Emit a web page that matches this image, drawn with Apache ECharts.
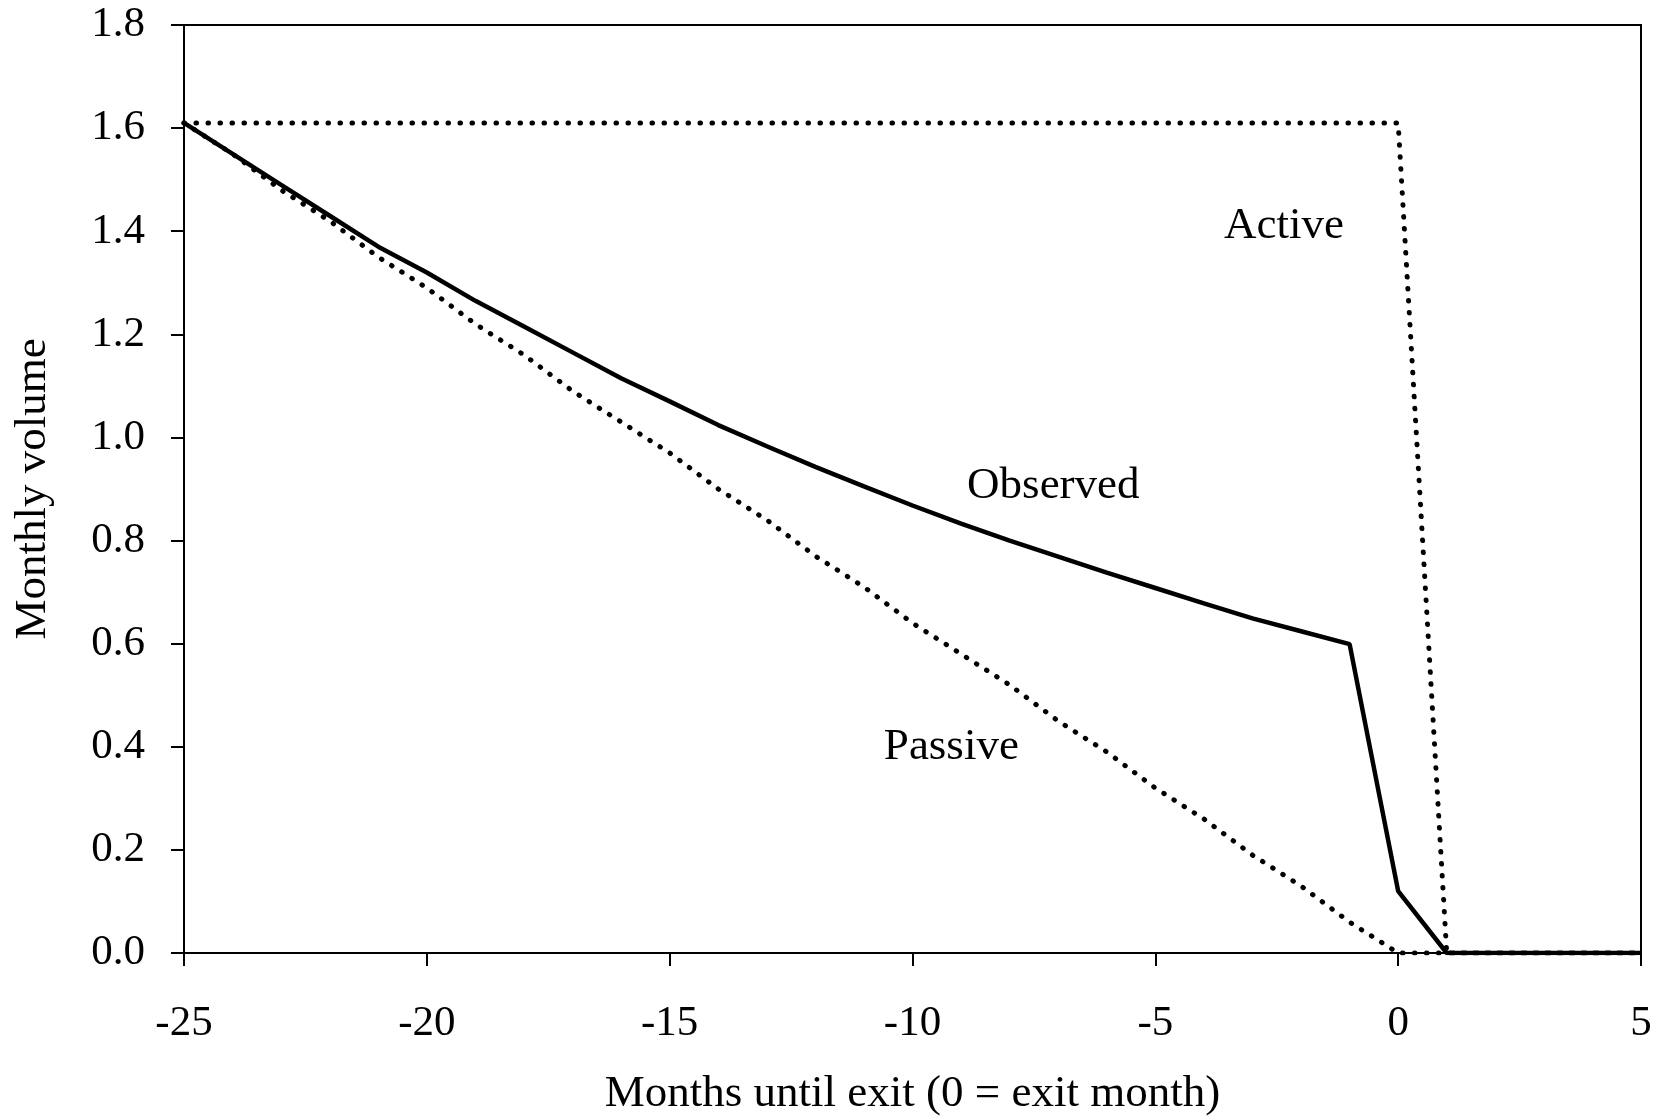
<!DOCTYPE html>
<html>
<head>
<meta charset="utf-8">
<script src="https://cdn.jsdelivr.net/npm/echarts@6/dist/echarts.min.js"></script>
<style>
  html, body { margin: 0; padding: 0; background: #fff; }
  #chart { width: 1664px; height: 1118px; }
</style>
</head>
<body>
<div id="chart"></div>
<script>
const months = [-25, -24, -23, -22, -21, -20, -19, -18, -17, -16, -15, -14, -13, -12, -11, -10,
                -9, -8, -7, -6, -5, -4, -3, -2, -1, 0, 1, 2, 3, 4, 5];
const observed = [1.61, 1.55, 1.49, 1.43, 1.37, 1.32, 1.265, 1.215, 1.165, 1.115, 1.07, 1.024,
                  0.983, 0.943, 0.905, 0.868, 0.833, 0.80, 0.769, 0.738, 0.708, 0.678, 0.649,
                  0.624, 0.599, 0.12, 0, 0, 0, 0, 0];
const passive = [1.61, 1.55, 1.48, 1.42, 1.35, 1.29, 1.22, 1.16, 1.09, 1.03, 0.97, 0.90, 0.84,
                 0.77, 0.71, 0.64, 0.58, 0.52, 0.45, 0.39, 0.32, 0.26, 0.19, 0.13, 0.06, 0,
                 0, 0, 0, 0, 0];
const active = [1.61, 1.61, 1.61, 1.61, 1.61, 1.61, 1.61, 1.61, 1.61, 1.61, 1.61, 1.61, 1.61,
                1.61, 1.61, 1.61, 1.61, 1.61, 1.61, 1.61, 1.61, 1.61, 1.61, 1.61, 1.61, 1.61,
                0, 0, 0, 0, 0];
// labels placed in data space
const labelNames = ['Active', 'Observed', 'Passive'];
const labelX = [-2.35, -7.1, -9.2];
const labelY = [1.41, 0.905, 0.4];

const font = '"Liberation Serif", "Times New Roman", serif';
const pairs = (ys) => months.map((m, i) => [m, ys[i]]);
const dotted = { color: '#000', width: 5, type: [0.5, 11.5], cap: 'round' };

const chart = echarts.init(document.getElementById('chart'));
chart.setOption({
  backgroundColor: '#fff',
  animation: false,
  grid: { left: 184, right: 23, top: 25, bottom: 165, outerBoundsMode: 'none',
          show: true, borderColor: '#000', borderWidth: 2 },
  xAxis: {
    type: 'value', min: -25, max: 5, interval: 5,
    name: 'Months until exit (0 = exit month)',
    nameLocation: 'middle', nameGap: 119,
    nameTextStyle: { fontFamily: font, fontSize: 45, color: '#000' },
    axisLine: { onZero: false, lineStyle: { color: '#000', width: 2 } },
    axisTick: { length: 13, lineStyle: { color: '#000', width: 2 } },
    axisLabel: { fontFamily: font, fontSize: 43, color: '#000', margin: 49 },
    splitLine: { show: false }
  },
  yAxis: {
    type: 'value', min: 0, max: 1.8, interval: 0.2,
    name: 'Monthly volume',
    nameLocation: 'middle', nameGap: 128,
    nameTextStyle: { fontFamily: font, fontSize: 45, color: '#000' },
    axisLine: { show: true, onZero: false, lineStyle: { color: '#000', width: 2 } },
    axisTick: { show: true, length: 13, lineStyle: { color: '#000', width: 2 } },
    axisLabel: { fontFamily: font, fontSize: 43, color: '#000', margin: 39,
                 formatter: (v) => v.toFixed(1) },
    splitLine: { show: false }
  },
  series: [
    { name: 'Active', type: 'line', data: pairs(active), symbol: 'none', lineStyle: dotted, z: 2 },
    { name: 'Passive', type: 'line', data: pairs(passive), symbol: 'none', lineStyle: dotted, z: 2 },
    { name: 'Observed', type: 'line', data: pairs(observed), symbol: 'none',
      lineStyle: { color: '#000', width: 4.5 }, z: 3 },
    {
      type: 'scatter', symbolSize: 0, silent: true,
      itemStyle: { opacity: 1 },
      data: labelNames.map((n, i) => ({ name: n, value: [labelX[i], labelY[i]] })),
      label: { show: true, position: 'inside', formatter: '{b}',
               fontFamily: font, fontSize: 45, color: '#000' }
    }
  ]
});
</script>
</body>
</html>
